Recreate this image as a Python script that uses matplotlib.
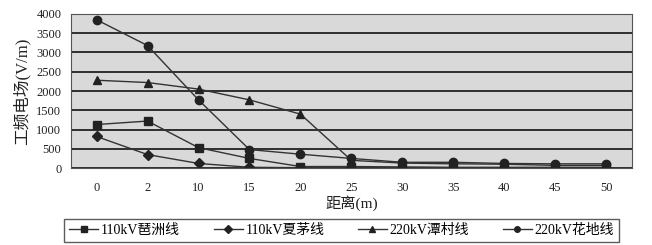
import matplotlib
matplotlib.use("Agg")
import matplotlib.pyplot as plt

plt.rcParams['font.family'] = ['Liberation Serif', 'Noto Sans CJK SC']

# distance categories (m)
distances = ['0', '2', '10', '15', '20', '25', '30', '35', '40', '45', '50']

# power-frequency electric field (V/m)
pazhou = [1130, 1220, 530, 250, 40, 40, 30, 20, 20, 20, 20]
xiamao = [820, 350, 120, 20, 10, 5, 5, 5, 5, 5, 5]
tancun = [2280, 2220, 2050, 1770, 1400, 200, 130, 110, 100, 70, 70]
huadi = [3850, 3180, 1770, 480, 360, 250, 150, 150, 120, 110, 110]

series_names = ['110kV琶洲线', '110kV夏茅线', '220kV潭村线', '220kV花地线']
series_values = [pazhou, xiamao, tancun, huadi]
markers = ['s', 'D', '^', 'o']
msizes = [6, 5, 6, 6]

fig = plt.figure(figsize=(6.52, 2.45), dpi=100)
ax = fig.add_axes([0.109, 0.314, 0.86, 0.629])
ax.set_facecolor('#d9d9d9')

x = list(range(len(distances)))
for name, vals, m, ms in zip(series_names, series_values, markers, msizes):
    ax.plot(x, vals, color='#333333', lw=1.0, marker=m, markersize=ms,
            markerfacecolor='#222222', markeredgecolor='#222222', label=name)

ax.set_xlim(-0.5, len(distances) - 0.5)
ax.set_ylim(0, 4000)
ax.set_yticks(range(0, 4001, 500))
ax.set_xticks(x)
ax.set_xticklabels(distances)
ax.yaxis.grid(True, color='#222222', lw=1.3)
ax.set_axisbelow(True)
ax.tick_params(axis='y', length=0, labelsize=9, colors='#222222', pad=7)
ax.tick_params(axis='x', length=0, labelsize=9, colors='#222222', pad=10)
for s in ax.spines.values():
    s.set_color('#555555')
    s.set_linewidth(0.8)

ax.set_ylabel('工频电场(V/m)', fontsize=12, color='#222222', labelpad=4)
ax.set_xlabel('距离(m)', fontsize=11, color='#222222', labelpad=1)

leg = fig.legend(loc='lower center', bbox_to_anchor=(0.524, 0.0), ncol=4,
                 fontsize=10, frameon=True, fancybox=False, edgecolor='#333333',
                 columnspacing=2.4, handlelength=2.1, handletextpad=0.2,
                 borderpad=0.35, borderaxespad=0.25)
leg.get_frame().set_linewidth(1.0)
for h in leg.legend_handles:
    h.set_markersize(4)

fig.savefig('out.png', dpi=100)
